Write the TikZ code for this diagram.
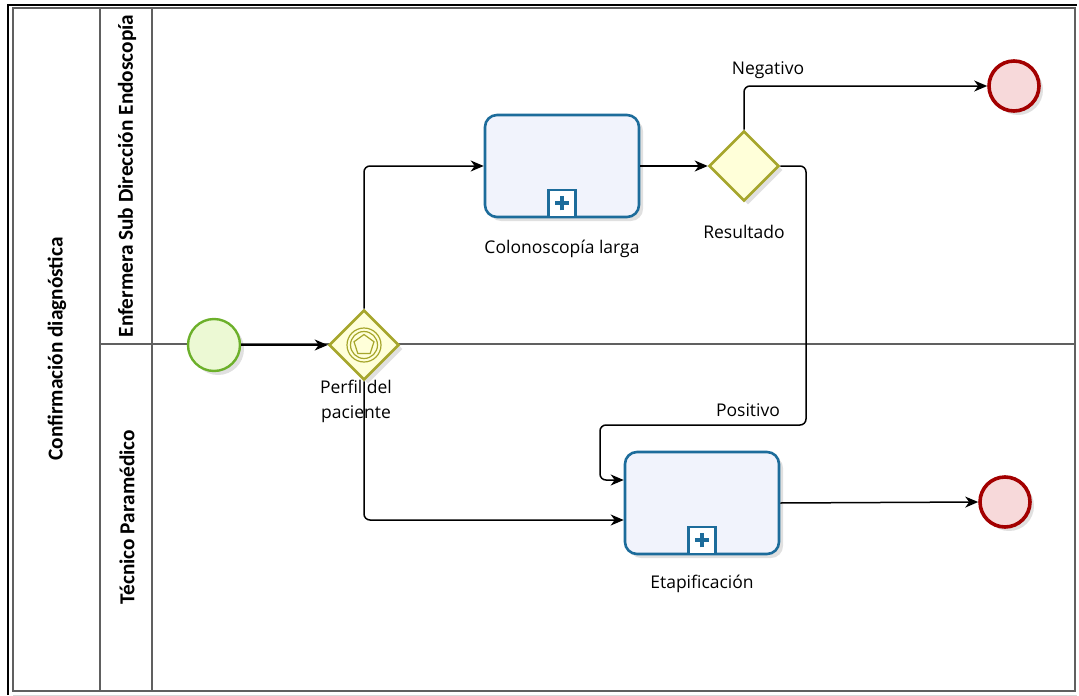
\documentclass[tikz,border=0pt]{standalone}
\usepackage{fontspec}
\setmainfont{Open Sans}
\newfontfamily\lanefont{Carlito}
\usepackage{tikz}
\usetikzlibrary{arrows.meta, positioning, calc, shapes.geometric, shadows}
\definecolor{taskblue}{HTML}{1D6C9B}
\definecolor{taskfill}{HTML}{F1F3FC}
\definecolor{gateolive}{HTML}{A6A62C}
\definecolor{gatefill}{HTML}{FFFFD9}
\definecolor{startgreen}{HTML}{6CB02A}
\definecolor{startfill}{HTML}{ECF9D4}
\definecolor{endred}{HTML}{A30000}
\definecolor{endfill}{HTML}{F7D9DA}
\definecolor{poolgray}{HTML}{606060}

\begin{document}
\begin{tikzpicture}[
  x=1pt, y=-1pt,
  shade/.style={drop shadow={shadow xshift=4pt, shadow yshift=-4pt, opacity=0.12, fill=black}},
  task/.style={draw=taskblue, fill=taskfill, line width=2.6pt, rounded corners=12pt,
               minimum width=154pt, minimum height=102pt, shade},
  gate/.style={diamond, aspect=1, draw=gateolive, fill=gatefill, line width=2.6pt,
               minimum width=70pt, minimum height=70pt, inner sep=0pt, shade},
  startev/.style={circle, draw=startgreen, fill=startfill, line width=2.4pt,
                  minimum size=52pt, inner sep=0pt, shade},
  endev/.style={circle, draw=endred, fill=endfill, line width=3.6pt,
                minimum size=50pt, inner sep=0pt, shade},
  submark/.style={draw=taskblue, line width=2.4pt, fill=white, minimum size=27pt, inner sep=0pt},
  lbl/.style={font=\fontsize{17.5}{25}\selectfont, text=black, align=center, inner sep=0pt},
  lanelbl/.style={font=\lanefont\bfseries\fontsize{21.3}{26}\selectfont, rotate=90, inner sep=0pt},
  flow/.style={-{Stealth[length=13pt, width=11pt, inset=4pt]}, line width=1.5pt,
               rounded corners=6pt}
]
  \useasboundingbox (0,0) rectangle (1079,696);

  % pool and lanes
  \draw[line width=1.6pt, poolgray] (13,8) rectangle (1075,691);
  \draw[line width=1.4pt, poolgray] (100,8) -- (100,691);
  \draw[line width=1.4pt, poolgray] (152,8) -- (152,691);
  \draw[line width=1.4pt, poolgray] (100,344) -- (1075,344);
  \draw[line width=2.4pt, black] (8,695) -- (8,5) -- (1077,5);
  \draw[line width=1pt, black!15] (13,695) -- (1077,695);

  \node[lanelbl] (pool) at (57,349) {Confirmación diagnóstica};
  \node[lanelbl] (laneA) at (127,176) {Enfermera Sub Dirección Endoscopía};
  \node[lanelbl] (laneB) at (127,517) {Técnico Paramédico};

  % nodes
  \node[startev] (inicio) at (214,345) {};
  \node[gate] (perfil) at (364,345) {};
  \node[task] (colono) at (562,166) {};
  \node[gate] (resul) at (744,166) {};
  \node[endev] (finneg) at (1014,86) {};
  \node[task] (etap) at (702,503) {};
  \node[endev] (finpos) at (1005,502) {};

  % event based gateway marker
  \draw[gateolive, line width=1.2pt] (perfil.center) circle[radius=17pt]
                                     (perfil.center) circle[radius=13.5pt];
  \node[regular polygon, regular polygon sides=5, draw=gateolive, line width=1.2pt,
        minimum size=21pt, inner sep=0pt] (perfilpent) at (perfil.center) {};

  % collapsed subprocess markers
  \foreach \t in {colono, etap} {
    \node[submark] (\t mark) at ([yshift=15pt]\t.south) {};
    \draw[taskblue, line width=4pt] ([xshift=-7pt]\t mark.center) -- ([xshift=7pt]\t mark.center)
                                    ([yshift=-7pt]\t mark.center) -- ([yshift=7pt]\t mark.center);
  }

  % labels
  \node[lbl, below=22pt of colono] (colonolbl) {Colonoscopía larga};
  \node[lbl, below=23pt of resul] (resullbl) {Resultado};
  \node[lbl, below=20pt of etap] (etaplbl) {Etapificación};
  \node[lbl] (perfillbl) at (356,401) {Perfil del\\paciente};
  \node[lbl] (neglbl) at (768,70) {Negativo};
  \node[lbl] (poslbl) at (748,410) {Positivo};

  % flows
  \coordinate (etapA) at ([yshift=23pt]etap.west);
  \coordinate (etapB) at ([yshift=-17pt]etap.west);
  \coordinate (posR) at (806,425);
  \coordinate (posL) at (600,425);

  \draw[flow] (inicio) -- (perfil.west);
  \draw[flow] (perfil.north) |- (colono.west);
  \draw[flow] (perfil.south) |- (etapB);
  \draw[flow] (colono.east) -- (resul.west);
  \draw[flow] (resul.north) |- (finneg.west);
  \draw[flow] (resul.east) -| (posR) -- (posL) |- (etapA);
  \draw[flow] (etap.east) -- (finpos.west);
\end{tikzpicture}
\end{document}
